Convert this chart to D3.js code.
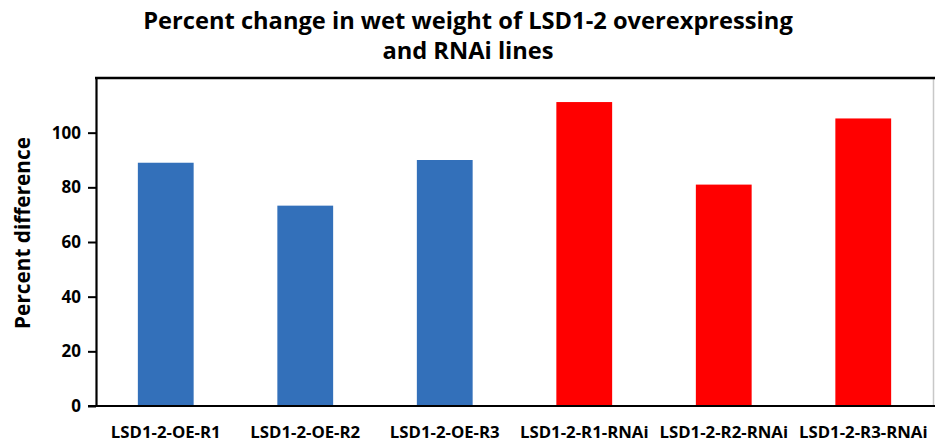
<!DOCTYPE html>
<html>
<head>
<meta charset="utf-8">
<script src="https://cdn.jsdelivr.net/npm/d3@7"></script>
<style>
  body { margin: 0; background: #fff; }
  svg { display: block; font-family: "Open Sans", Lato, sans-serif; }
</style>
</head>
<body>
<svg id="chart" width="935" height="446"></svg>
<script>
// Plant lines and their percent change in wet weight
const lines = ["LSD1-2-OE-R1", "LSD1-2-OE-R2", "LSD1-2-OE-R3",
               "LSD1-2-R1-RNAi", "LSD1-2-R2-RNAi", "LSD1-2-R3-RNAi"];
const percentDiff = [89, 73.3, 90, 111.2, 81, 105.2];
const lineType = ["OE", "OE", "OE", "RNAi", "RNAi", "RNAi"];
const yTicks = [0, 20, 40, 60, 80, 100];
const titleLines = ["Percent change in wet weight of LSD1-2 overexpressing", "and RNAi lines"];
const yLabel = "Percent difference";

const colorByType = { OE: "#3370BA", RNAi: "#FF0000" };

const svg = d3.select("#chart");
const margin = { top: 78, right: 2, bottom: 40, left: 96 };
const W = 935, H = 446;
const plotW = W - margin.left - margin.right;
const plotH = H - margin.top - margin.bottom;

const x = d3.scaleBand().domain(lines).range([0, plotW]).paddingInner(0.6).paddingOuter(0.3);
const y = d3.scaleLinear().domain([0, 120]).range([plotH, 0]);

// scale a text element's font so its rendered width reaches the given width
function fitWidth(sel, width) {
  sel.each(function () {
    const base = parseFloat(d3.select(this).attr("font-size"));
    const w = this.getComputedTextLength();
    if (w > 0) d3.select(this).attr("font-size", (base * width / w).toFixed(2));
  });
}

const g = svg.append("g").attr("transform", `translate(${margin.left},${margin.top})`);

// plot frame: grey right edge
g.append("line").attr("x1", plotW + 0.5).attr("x2", plotW + 0.5)
  .attr("y1", 0).attr("y2", plotH).attr("stroke", "#c8c8c8").attr("stroke-width", 1.5);

// bars
g.selectAll("rect.bar").data(lines).join("rect")
  .attr("class", "bar")
  .attr("x", d => x(d))
  .attr("width", x.bandwidth())
  .attr("y", (d, i) => y(percentDiff[i]))
  .attr("height", (d, i) => y(0) - y(percentDiff[i]))
  .attr("fill", (d, i) => colorByType[lineType[i]]);

// black top edge
g.append("line").attr("x1", -1).attr("x2", plotW + 2)
  .attr("y1", 0).attr("y2", 0).attr("stroke", "#000").attr("stroke-width", 2.5);

// y axis
const yAxis = g.append("g").call(d3.axisLeft(y).tickValues(yTicks).tickSize(8).tickPadding(7).tickSizeOuter(0));
yAxis.select(".domain").attr("stroke", "#000").attr("stroke-width", 2.2);
yAxis.selectAll(".tick line").attr("stroke", "#000").attr("stroke-width", 2);
yAxis.selectAll(".tick text").attr("font-size", 17).attr("font-weight", "bold").attr("fill", "#000")
  .attr("font-family", "'Open Sans', sans-serif");

// x axis
const xAxis = g.append("g").attr("transform", `translate(0,${plotH})`)
  .call(d3.axisBottom(x).tickSize(0).tickPadding(20).tickSizeOuter(0));
xAxis.select(".domain").attr("stroke", "#000").attr("stroke-width", 2.2).attr("d", `M-8,0H${plotW + 2}`);
const xText = xAxis.selectAll(".tick text").attr("font-size", 14).attr("font-weight", "bold").attr("fill", "#000")
  .attr("font-family", "'Open Sans', sans-serif");
// uniform size from the first label's width
{
  const first = xText.node();
  const w = first.getComputedTextLength();
  xText.attr("font-size", (14 * 110 / w).toFixed(2));
}

// y label
svg.append("text")
  .attr("transform", `translate(30,${margin.top + 155}) rotate(-90)`)
  .attr("text-anchor", "middle")
  .attr("font-size", 19).attr("font-weight", "bold")
  .text(yLabel)
  .call(fitWidth, 192);

// title
const title = svg.append("g").selectAll("text").data(titleLines).join("text")
  .attr("x", 468)
  .attr("y", (d, i) => 29 + i * 30)
  .attr("text-anchor", "middle")
  .attr("font-size", 22).attr("font-weight", "bold")
  .text(d => d);
{
  const w = title.node().getComputedTextLength();
  title.attr("font-size", (22 * 650 / w).toFixed(2));
}
</script>
</body>
</html>
